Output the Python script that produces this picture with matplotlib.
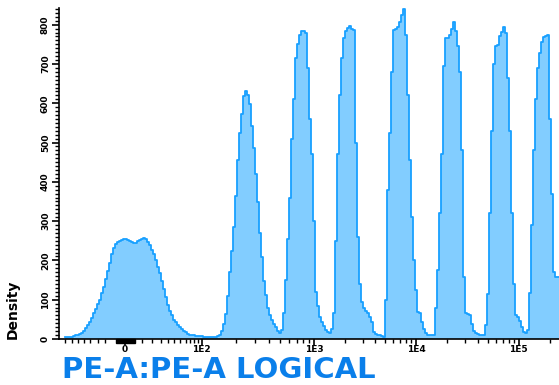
import matplotlib
matplotlib.use("Agg")
import matplotlib.pyplot as plt
import matplotlib.transforms as mtransforms
from matplotlib.patches import Rectangle
import numpy as np

# histogram channels (256-channel display, 250 shown), first bin starts at channel 3
start_channel = 3
density = [
    4, 4, 5, 6, 7, 9, 11, 13, 16, 21,
    27, 35, 44, 54, 65, 76, 88, 99, 116, 133,
    152, 173, 193, 216, 231, 241, 246, 249, 252, 254,
    255, 253, 250, 247, 245, 245, 249, 252, 255, 257,
    255, 248, 238, 227, 216, 202, 184, 167, 148, 127,
    106, 87, 72, 60, 49, 42, 36, 31, 26, 21,
    17, 13, 10, 9, 9, 8, 8, 7, 7, 6,
    6, 6, 6, 6, 6, 6, 7,
    # peak 2
    10, 20, 38, 64, 110, 170, 225, 285, 365, 455,
    524, 572, 618, 630, 622, 598, 542, 486, 420, 348,
    269, 208, 148, 113, 79, 62, 48, 38, 30, 21,
    14, 22, 65, 150, 255, 360,
    # peak 3
    510, 610, 715, 750, 775, 785, 785, 780, 690, 560,
    470, 300, 120, 85, 55, 42, 32, 24, 19, 15,
    25, 65, 250, 470,
    # peak 4
    620, 715, 765, 785, 792, 796, 790, 787, 500, 260,
    140, 95, 80, 72, 66, 57, 42, 18, 13, 11,
    10, 8, 6, 100, 380,
    # peak 5
    524, 680, 787, 788, 795, 808, 825, 840, 775, 620,
    456, 310, 201, 125, 68, 65, 42, 25, 15, 11,
    10, 10, 10, 80, 175, 320, 470,
    # peak 6
    694, 766, 766, 775, 789, 808, 785, 745, 680, 480,
    159, 65, 63, 61, 38, 21, 15, 12, 10, 10,
    10, 35, 115, 320, 530,
    # peak 7
    700, 747, 749, 770, 781, 794, 780, 665, 530, 320,
    140, 62, 57, 45, 30, 18, 14, 22, 116, 290,
    480,
    # peak 8
    610, 690, 728, 755, 768, 772, 774, 560, 370, 170,
    159, 157,
]

# axis decades in channel units
decade_labels = ["1E2", "1E3", "1E4", "1E5"]
decade_channels = [71.35, 127.5, 178.5, 229.85]
zero_channel = 33.0
linear_minor = [3, 6.35, 9.35, 12.35, 15.65, 19.35, 23,
                41.65, 46.65, 51, 54.65, 57.65, 60.5, 63.35, 65.65, 67.65, 69.35]

edges = start_channel + np.arange(len(density) + 1)
vals = np.append(density, density[-1])

fig = plt.figure(figsize=(5.59, 3.85), dpi=100)
ax = fig.add_axes([59 / 559, 46 / 385, 500 / 559, 331 / 385])

fill_col = "#82CDFF"
edge_col = "#18A0FF"
ax.fill_between(edges, vals, step="post", color=fill_col, linewidth=0, zorder=2)
ax.step(edges, vals, where="post", color=edge_col, linewidth=1.3, zorder=3)

ax.set_xlim(0, 250)
ax.set_ylim(0, 842.5)

for s in ["top", "right"]:
    ax.spines[s].set_visible(False)
ax.spines["left"].set_linewidth(1.2)
ax.spines["bottom"].set_linewidth(1.2)

tick_font = dict(family="DejaVu Sans", weight="bold", size=6.5)

# y axis
ax.set_yticks(np.arange(0, 801, 100))
ax.set_yticks(np.arange(0, 841, 10), minor=True)
ax.set_yticklabels([str(v) for v in range(0, 801, 100)], rotation=90,
                   va="center", **tick_font)
ax.tick_params(axis="y", which="major", length=5, width=1.2, pad=1.5)
ax.tick_params(axis="y", which="minor", length=3, width=1.0)
ax.set_ylabel("Density", fontsize=10, fontweight="bold", family="DejaVu Sans",
              loc="bottom")
ax.yaxis.set_label_coords(-0.078, 0.0)

# x axis: logical scale ticks
minor_x = list(linear_minor)
span = decade_channels[1] - decade_channels[0]
for i, base in enumerate(decade_channels):
    if i + 1 < len(decade_channels):
        span = decade_channels[i + 1] - base
    for k in range(2, 10):
        p = base + span * np.log10(k)
        if p < 250:
            minor_x.append(p)
ax.set_xticks([zero_channel] + decade_channels)
ax.set_xticklabels(["0"] + decade_labels, **tick_font)
ax.set_xticks(minor_x, minor=True)
ax.tick_params(axis="x", which="major", length=4, width=1.2, pad=0.5)
ax.tick_params(axis="x", which="minor", length=3, width=1.0)

# black bar marking the zero region
trans = mtransforms.blended_transform_factory(ax.transData, ax.transAxes)
ax.add_patch(Rectangle((28.5, -0.012), 9.5, 0.012, transform=trans,
                       color="black", clip_on=False, zorder=5))

fig.text(62 / 559, 1 - 370.5 / 385, "PE-A:PE-A LOGICAL", color="#0A7FEA",
         fontsize=21, fontweight="bold", family="DejaVu Sans",
         ha="left", va="center")

fig.savefig("out.png", dpi=100)
